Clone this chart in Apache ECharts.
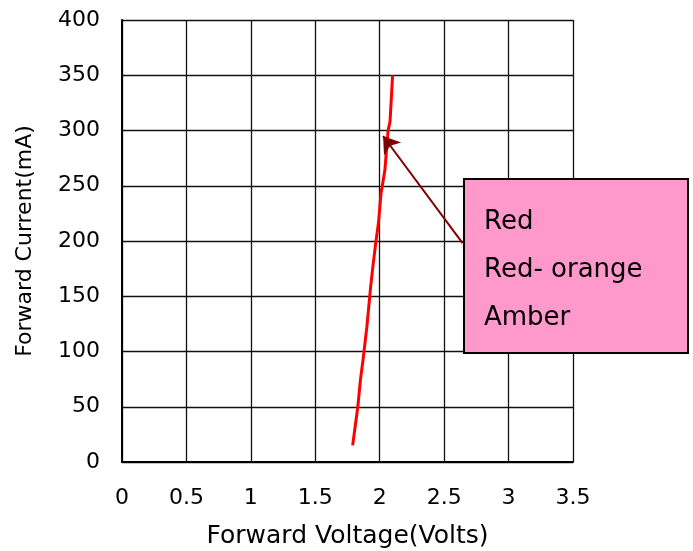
<!DOCTYPE html>
<html>
<head>
<meta charset="utf-8">
<script src="https://cdn.jsdelivr.net/npm/echarts@6/dist/echarts.min.js"></script>
<style>
html,body{margin:0;padding:0;background:#fff;}
#chart{width:693px;height:551px;}
</style>
</head>
<body>
<div id="chart"></div>
<script>
var voltage = [1.79, 1.83, 1.85, 1.87, 1.90, 1.93, 1.95, 1.97, 1.99, 2.01, 2.04, 2.065, 2.08, 2.10];
var current = [15, 50, 74, 92, 122, 159, 180, 199, 216, 243, 264, 300, 308, 350];
var legendLabels = ['Red', 'Red- orange', 'Amber'];
var arrowTail = [2.643, 198];
var arrowTip = [2.026, 295];

var chart = echarts.init(document.getElementById('chart'));
var ff = '"DejaVu Sans", "Liberation Sans", Arial, sans-serif';
var pts = voltage.map(function(v, i){ return [v, current[i]]; });

var option = {
  animation: false,
  backgroundColor: '#fff',
  grid: {left: 122, top: 20, right: 120, bottom: 89, containLabel: false, outerBoundsMode: 'none'},
  xAxis: {
    type: 'value', min: 0, max: 3.5, interval: 0.5,
    name: 'Forward Voltage(Volts)', nameLocation: 'middle', nameGap: 62,
    nameTextStyle: {fontFamily: ff, fontSize: 25, color: '#000'},
    axisLine: {show: true, lineStyle: {color: '#000', width: 2}},
    axisTick: {show: false},
    axisLabel: {fontFamily: ff, fontSize: 22, color: '#000', margin: 25},
    splitLine: {show: true, lineStyle: {color: '#111', width: 1.3}}
  },
  yAxis: {
    type: 'value', min: 0, max: 400, interval: 50,
    name: 'Forward Current(mA)', nameLocation: 'middle', nameGap: 86,
    nameTextStyle: {fontFamily: ff, fontSize: 22, color: '#000'},
    axisLine: {show: true, lineStyle: {color: '#000', width: 2}},
    axisTick: {show: false},
    axisLabel: {fontFamily: ff, fontSize: 22, color: '#000', margin: 22},
    splitLine: {show: true, lineStyle: {color: '#111', width: 1.3}}
  },
  series: [{
    type: 'line',
    data: pts,
    symbol: 'none',
    lineStyle: {color: '#ff0000', width: 3},
    z: 3,
    markLine: {
      silent: true,
      animation: false,
      lineStyle: {color: '#800000', width: 2, type: 'solid'},
      label: {show: false},
      symbolSize: 16,
      data: [[
        {coord: arrowTail, symbol: 'none'},
        {coord: arrowTip, symbol: 'arrow'}
      ]]
    }
  }],
  graphic: [
    {type: 'rect', left: 463, top: 178, shape: {width: 224, height: 174},
     style: {fill: '#ff99cc', stroke: '#000', lineWidth: 2}, z: 100},
    {type: 'rect', left: 687, top: 223, shape: {width: 2, height: 34},
     style: {fill: '#888'}, z: 99},
    {type: 'text', left: 484, top: 209, style: {text: legendLabels[0], font: '26px ' + ff, fill: '#000'}, z: 101},
    {type: 'text', left: 484, top: 257, style: {text: legendLabels[1], font: '26px ' + ff, fill: '#000'}, z: 101},
    {type: 'text', left: 484, top: 305, style: {text: legendLabels[2], font: '26px ' + ff, fill: '#000'}, z: 101}
  ]
};
chart.setOption(option);
</script>
</body>
</html>
